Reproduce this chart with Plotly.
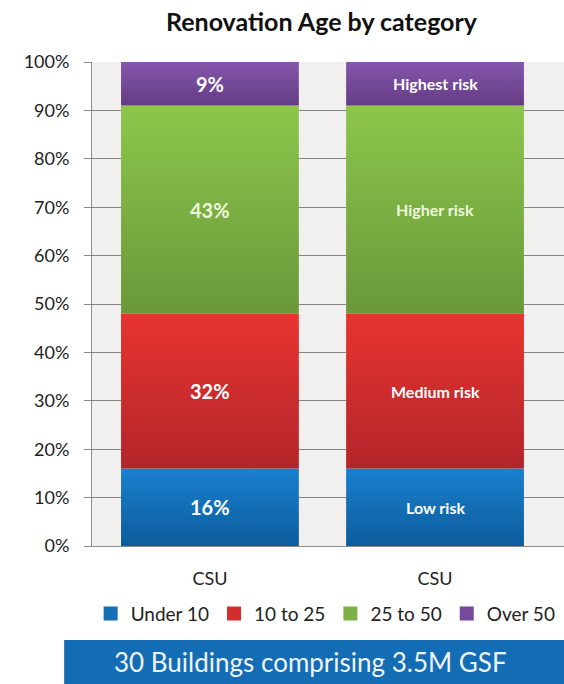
import plotly.graph_objects as go

# Stacked share of building area by renovation age
categories = ["CSU", "CSU"]
series_names = ["Under 10", "10 to 25", "25 to 50", "Over 50"]
under_10 = [16, 16]
ten_to_25 = [32, 32]
twentyfive_to_50 = [43, 43]
over_50 = [9, 9]
risk_labels = ["Low risk", "Medium risk", "Higher risk", "Highest risk"]
y_ticks = [0, 10, 20, 30, 40, 50, 60, 70, 80, 90, 100]

series_values = [under_10, ten_to_25, twentyfive_to_50, over_50]
# (bottom, top) shades for each segment's vertical gradient
shades = [
    ("#0c5c9b", "#1a80cf"),
    ("#b3252a", "#e73430"),
    ("#6a983a", "#8dc64b"),
    ("#643c84", "#8556ac"),
]
swatch_colors = ["#156fb6", "#d42e2b", "#7db143", "#764a9b"]
label_colors = ["#ffffff", "#ffffff", "#eef8dc", "#ffffff"]
positions = list(range(len(categories)))
BAR_W = 0.79

FONT = "Lato, 'Open Sans', sans-serif"

fig = go.Figure()
bases = [0.0 for _ in positions]
for name, vals, (dark, light), risk, lc in zip(series_names, series_values, shades, risk_labels, label_colors):
    xs, ys = [], []
    for j, p in enumerate(positions):
        b, t = bases[j], bases[j] + vals[j]
        xs += [p - BAR_W / 2, p + BAR_W / 2, p + BAR_W / 2, p - BAR_W / 2, p - BAR_W / 2, None]
        ys += [b, b, t, t, b, None]
        # percentages on the first column, risk level on the second
        fig.add_annotation(
            x=p, y=(b + t) / 2, xref="x", yref="y",
            text=f"<b>{vals[j]}%</b>" if j == 0 else f"<b>{risk}</b>",
            showarrow=False, xanchor="center", yanchor="middle",
            font=dict(color=lc, size=20 if j == 0 else 16, family=FONT),
        )
    seg_base, seg_top = bases[0], bases[0] + vals[0]
    fig.add_trace(go.Scatter(
        x=xs, y=ys,
        name=name,
        mode="none",
        fill="toself",
        fillcolor=light,
        fillgradient=dict(
            type="vertical",
            colorscale=[[0, dark], [1, light]],
            start=seg_base,
            stop=seg_top,
        ),
        showlegend=False,
        hoverinfo="skip",
    ))
    bases = [bases[j] + vals[j] for j in range(len(positions))]

# Square legend keys for the four age bands
for name, col in zip(series_names, swatch_colors):
    fig.add_trace(go.Scatter(
        x=[None], y=[None],
        name=name,
        mode="markers",
        marker=dict(symbol="square", size=14, color=col),
        hoverinfo="skip",
    ))

fig.update_layout(
    width=564,
    height=684,
    margin=dict(l=92, r=0, t=62, b=138),
    paper_bgcolor="white",
    plot_bgcolor="#f2f0ee",
    font=dict(family=FONT, color="#333333"),
    title=dict(
        text="<b>Renovation Age by category</b>",
        x=0.57, xanchor="center",
        y=0.967, yanchor="middle",
        font=dict(size=25, color="#111111", family=FONT),
    ),
    showlegend=True,
    legend=dict(
        orientation="h",
        x=0.495, xanchor="center",
        y=-0.14, yanchor="middle",
        font=dict(size=19, color="#222222", family=FONT),
        itemwidth=30,
        traceorder="normal",
        bgcolor="rgba(0,0,0,0)",
    ),
    xaxis=dict(
        range=[-0.524, 1.573],
        tickvals=positions,
        ticktext=categories,
        showgrid=False,
        showline=True,
        linecolor="#8c8c8c",
        linewidth=1,
        ticks="",
        ticklabelstandoff=16,
        tickfont=dict(size=18, color="#222222", family=FONT),
        zeroline=False,
        fixedrange=True,
    ),
    yaxis=dict(
        range=[0, 100],
        tickvals=y_ticks,
        ticktext=[f"{v}%" for v in y_ticks],
        showgrid=True,
        gridcolor="#858585",
        gridwidth=1,
        showline=True,
        linecolor="#8c8c8c",
        linewidth=1,
        ticks="outside",
        ticklen=7,
        tickcolor="#8c8c8c",
        ticklabelstandoff=11,
        tickfont=dict(size=18, color="#222222", family=FONT),
        zeroline=False,
        fixedrange=True,
    ),
)

# Summary banner under the legend
fig.add_shape(
    type="rect", xref="paper", yref="paper",
    x0=-0.059, x1=1.0, y0=-0.285, y1=-0.194,
    fillcolor="#146cb5", line=dict(width=0), layer="above",
)
fig.add_annotation(
    text="30 Buildings comprising 3.5M GSF",
    xref="paper", yref="paper",
    x=0.462, y=-0.2395, xanchor="center", yanchor="middle",
    showarrow=False,
    font=dict(size=26, color="#eef4fb", family=FONT),
)

fig.write_html("out.html")
